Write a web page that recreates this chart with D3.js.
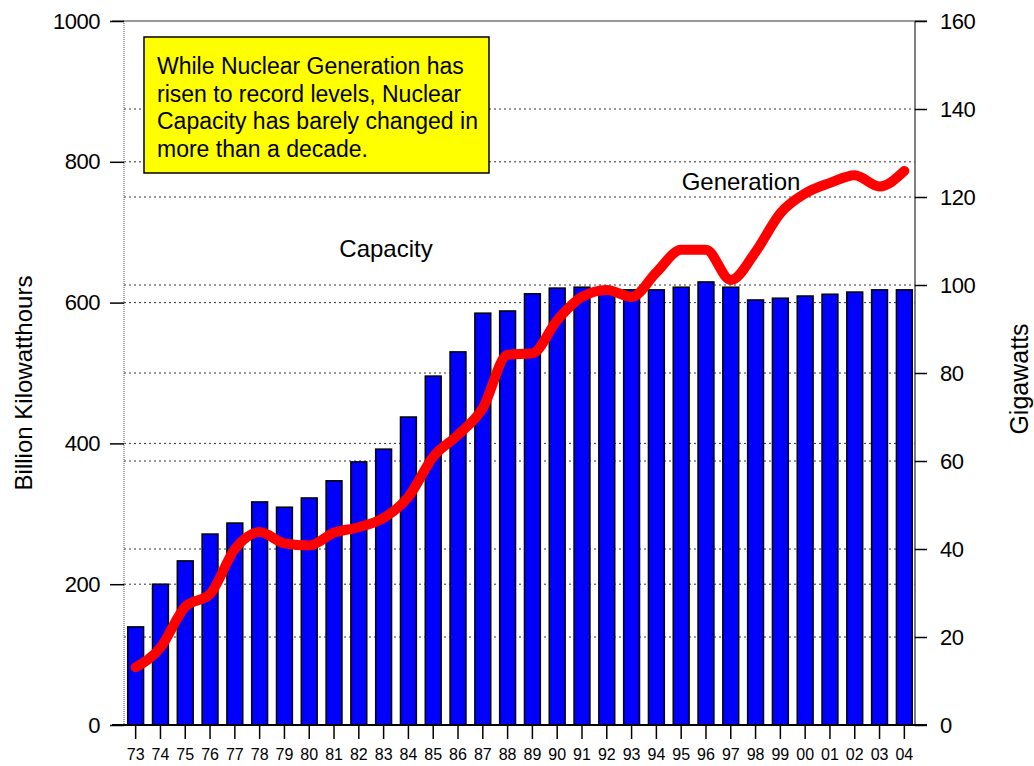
<!DOCTYPE html>
<html>
<head>
<meta charset="UTF-8">
<title>Nuclear Generation and Capacity</title>
<script src="https://d3js.org/d3.v7.min.js"></script>
<style>
  body { margin: 0; background: #fff; }
  svg { display: block; font-family: "Liberation Sans", Arial, sans-serif; }
  .grid line { stroke: #333; stroke-dasharray: 2,3; stroke-width: 1; }
  .axis text { fill: #000; }
  .axis line { stroke: #000; }
</style>
</head>
<body>
<svg width="1034" height="766"></svg>
<script>
// years (two-digit labels)
const years = ["73","74","75","76","77","78","79","80","81","82","83","84","85","86","87","88",
               "89","90","91","92","93","94","95","96","97","98","99","00","01","02","03","04"];
// nuclear capacity, gigawatts (bars, right axis)
const capacity = [22.3, 32.0, 37.3, 43.4, 45.9, 50.7, 49.5, 51.6, 55.5, 59.8, 62.7, 70.0, 79.3, 84.8, 93.6, 94.1,
                  98.0, 99.3, 99.5, 99.1, 98.9, 98.9, 99.5, 100.7, 99.5, 96.6, 97.0, 97.5, 97.9, 98.4, 98.9, 98.9];
// nuclear generation, billion kilowatthours (line, left axis)
const generation = [82, 110, 168, 186, 250, 274, 258, 255, 273, 281, 294, 324, 381, 412, 450, 526,
                    528, 575, 608, 618, 608, 643, 675, 675, 632, 672, 727, 755, 770, 781, 765, 787];
const leftTicks = [0, 200, 400, 600, 800, 1000];
const rightTicks = [0, 20, 40, 60, 80, 100, 120, 140, 160];
const noteLines = ["While Nuclear Generation has", "risen to record levels, Nuclear",
                   "Capacity has barely changed in", "more than a decade."];

const svg = d3.select("svg");
const mLeft = 124, mRight = 915, mTop = 21, mBottom = 725;

const x = d3.scaleBand().domain(years).range([mLeft, mRight + 1]).paddingInner(0.36).paddingOuter(0.15);
const yL = d3.scaleLinear().domain([0, 1000]).range([mBottom, mTop]);
const yR = d3.scaleLinear().domain([0, 160]).range([mBottom, mTop]);

// dotted grid lines for both axes
const grid = svg.append("g").attr("class", "grid");
grid.selectAll(".gl").data(leftTicks.filter(d => d > 0 && d < 1000)).enter()
  .append("line").attr("x1", mLeft).attr("x2", mRight)
  .attr("y1", d => yL(d)).attr("y2", d => yL(d));
grid.selectAll(".gr").data(rightTicks.filter(d => d > 0 && d < 160)).enter()
  .append("line").attr("x1", mLeft).attr("x2", mRight)
  .attr("y1", d => yR(d)).attr("y2", d => yR(d));

// frame
svg.append("line").attr("x1", 112).attr("x2", 927).attr("y1", mTop).attr("y2", mTop)
  .attr("stroke", "#777").attr("stroke-width", 1.5);
svg.append("line").attr("x1", mLeft).attr("x2", mLeft).attr("y1", mTop).attr("y2", mBottom)
  .attr("stroke", "#888").attr("stroke-width", 1.5).attr("stroke-dasharray", "1,1");
svg.append("line").attr("x1", mRight).attr("x2", mRight).attr("y1", mTop).attr("y2", mBottom)
  .attr("stroke", "#555").attr("stroke-width", 1.5);

// capacity bars
svg.append("g").selectAll("rect").data(capacity).enter()
  .append("rect")
  .attr("x", (d, i) => x(years[i]))
  .attr("width", x.bandwidth())
  .attr("y", d => yR(d))
  .attr("height", d => mBottom - yR(d))
  .attr("fill", "#0000ff")
  .attr("stroke", "#000")
  .attr("stroke-width", 1.5);

// generation line
const line = d3.line()
  .x((d, i) => x(years[i]) + x.bandwidth() / 2)
  .y(d => yL(d))
  .curve(d3.curveMonotoneX);
svg.append("path").datum(generation)
  .attr("d", line)
  .attr("fill", "none")
  .attr("stroke", "#ff0000")
  .attr("stroke-width", 10)
  .attr("stroke-linecap", "round")
  .attr("stroke-linejoin", "round");

// bottom axis
svg.append("line").attr("x1", 112).attr("x2", 927).attr("y1", mBottom).attr("y2", mBottom)
  .attr("stroke", "#000").attr("stroke-width", 2);
const xAxis = svg.append("g").attr("class", "axis")
  .attr("transform", `translate(0,${mBottom})`)
  .call(d3.axisBottom(x).tickSize(14).tickPadding(10).tickSizeOuter(0));
xAxis.select(".domain").remove();
xAxis.selectAll("text").style("font-size", "16px");
xAxis.selectAll("line").attr("stroke-width", 1.5);

// left axis
const lAxis = svg.append("g").attr("class", "axis")
  .attr("transform", `translate(${mLeft},0)`)
  .call(d3.axisLeft(yL).tickValues(leftTicks).tickFormat(d3.format("d"))
    .tickSize(14).tickPadding(10).tickSizeOuter(0));
lAxis.select(".domain").remove();
lAxis.selectAll("text").style("font-size", "22px").style("letter-spacing", "-0.5px");
lAxis.selectAll("line").attr("stroke-width", 1.5);

// right axis
const rAxis = svg.append("g").attr("class", "axis")
  .attr("transform", `translate(${mRight},0)`)
  .call(d3.axisRight(yR).tickValues(rightTicks).tickSize(12).tickPadding(13).tickSizeOuter(0));
rAxis.select(".domain").remove();
rAxis.selectAll("text").style("font-size", "22px").style("letter-spacing", "-0.5px");
rAxis.selectAll("line").attr("stroke-width", 1.5);

// axis titles
svg.append("text").attr("transform", "translate(32,383) rotate(-90)")
  .attr("text-anchor", "middle").style("font-size", "24px").text("Billion Kilowatthours");
svg.append("text").attr("transform", "translate(1028,379) rotate(-90)")
  .attr("text-anchor", "middle").style("font-size", "25px").text("Gigawatts");

// series labels
svg.append("text").attr("x", 386).attr("y", 257).attr("text-anchor", "middle")
  .style("font-size", "24px").text("Capacity");
svg.append("text").attr("x", 741).attr("y", 190).attr("text-anchor", "middle")
  .style("font-size", "24px").text("Generation");

// annotation box
svg.append("rect").attr("x", 144).attr("y", 37).attr("width", 345).attr("height", 136)
  .attr("fill", "#ffff00").attr("stroke", "#000").attr("stroke-width", 1.5);
svg.append("text").attr("x", 157).attr("y", 74).style("font-size", "23px")
  .selectAll("tspan").data(noteLines).enter()
  .append("tspan").attr("x", 157).attr("dy", (d, i) => i ? 27.7 : 0).text(d => d);
</script>
</body>
</html>
